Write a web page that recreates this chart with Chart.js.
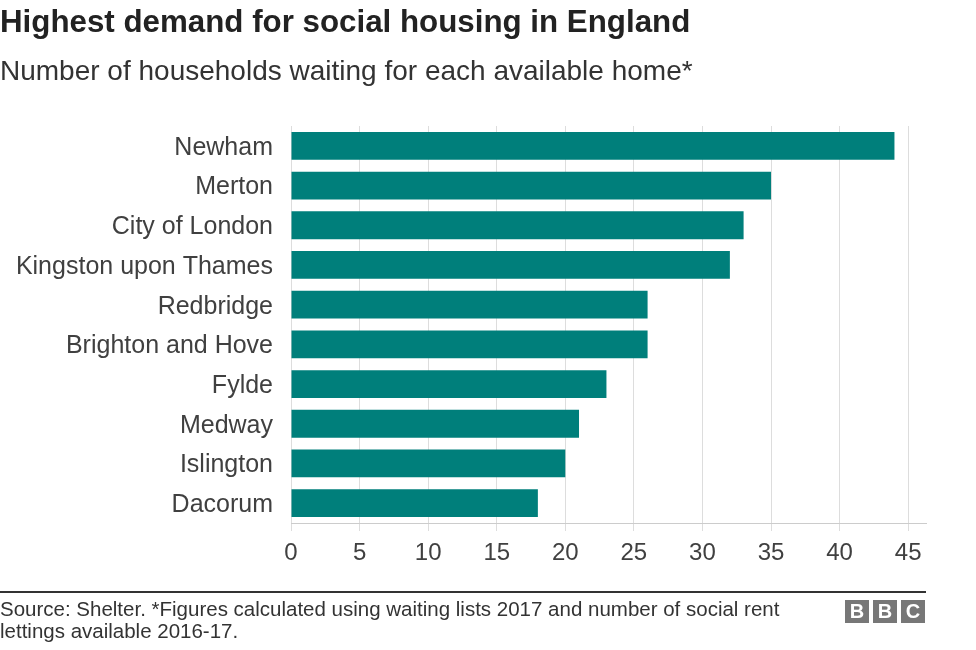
<!DOCTYPE html>
<html>
<head>
<meta charset="utf-8">
<script src="https://cdn.jsdelivr.net/npm/chart.js@4"></script>
<style>
  html, body { margin: 0; padding: 0; background: #fff; }
  body { width: 976px; height: 650px; position: relative; overflow: hidden;
         font-family: 'Liberation Sans', Arial, Helvetica, sans-serif; color: #222; }
  #wrap { position: absolute; left: 0; top: 0; width: 976px; height: 650px; }
  .title { position: absolute; left: 0; top: 4px; font-size: 31.3px; font-weight: bold; line-height: 36px; white-space: nowrap; }
  .sub { position: absolute; left: 0; top: 55px; font-size: 28px; line-height: 32px; color: #333; white-space: nowrap; }
  .rule { position: absolute; left: 0; top: 591px; width: 926px; height: 2px; background: #333; }
  .source { position: absolute; left: 0; top: 598px; font-size: 20.5px; line-height: 22px; color: #333; width: 810px; }
  .bbc { position: absolute; left: 845px; top: 600px; height: 23px; }
  .bbc span { position: absolute; top: 0; width: 24px; height: 23px; background: #777;
              color: #fff; font-weight: bold; font-size: 20px; line-height: 23px; text-align: center; }
</style>
</head>
<body>
<div id="wrap"><canvas id="chart" width="976" height="650"></canvas></div>
<div class="title">Highest demand for social housing in England</div>
<div class="sub">Number of households waiting for each available home*</div>
<div class="rule"></div>
<div class="source">Source: Shelter. *Figures calculated using waiting lists 2017 and number of social rent lettings available 2016-17.</div>
<div class="bbc"><span style="left:0">B</span><span style="left:28px">B</span><span style="left:56px">C</span></div>
<script>
const areas = ['Newham', 'Merton', 'City of London', 'Kingston upon Thames', 'Redbridge',
               'Brighton and Hove', 'Fylde', 'Medway', 'Islington', 'Dacorum'];
const householdsPerHome = [44, 35, 33, 32, 26, 26, 23, 21, 20, 18];
const xTicks = [0, 5, 10, 15, 20, 25, 30, 35, 40, 45];

const fontFamily = "'Liberation Sans', Arial, Helvetica, sans-serif";

new Chart(document.getElementById('chart'), {
    type: 'bar',
    data: {
        labels: areas,
        datasets: [{
            data: householdsPerHome,
            backgroundColor: '#007f7b',
            borderWidth: 0,
            barPercentage: 1,
            categoryPercentage: 0.7
        }]
    },
    options: {
        indexAxis: 'y',
        responsive: false,
        animation: false,
        layout: { padding: { top: 126, right: 50, bottom: 0, left: 0 } },
        plugins: { legend: { display: false }, tooltip: { enabled: false } },
        scales: {
            x: {
                min: 0,
                max: 46.3,
                afterFit: s => { s.height = 127; },
                afterBuildTicks: s => { s.ticks = xTicks.map(v => ({ value: v })); },
                ticks: { color: '#404040', padding: 8, font: { family: fontFamily, size: 24 } },
                grid: { color: '#dddddd', tickLength: 8, lineWidth: 1 },
                border: { color: '#cccccc' }
            },
            y: {
                afterFit: s => { s.width = 291; },
                grid: { display: false, drawTicks: false },
                border: { display: false },
                ticks: { color: '#404040', padding: 18, labelOffset: 2,
                         font: { family: fontFamily, size: 25 } }
            }
        }
    }
});
</script>
</body>
</html>
